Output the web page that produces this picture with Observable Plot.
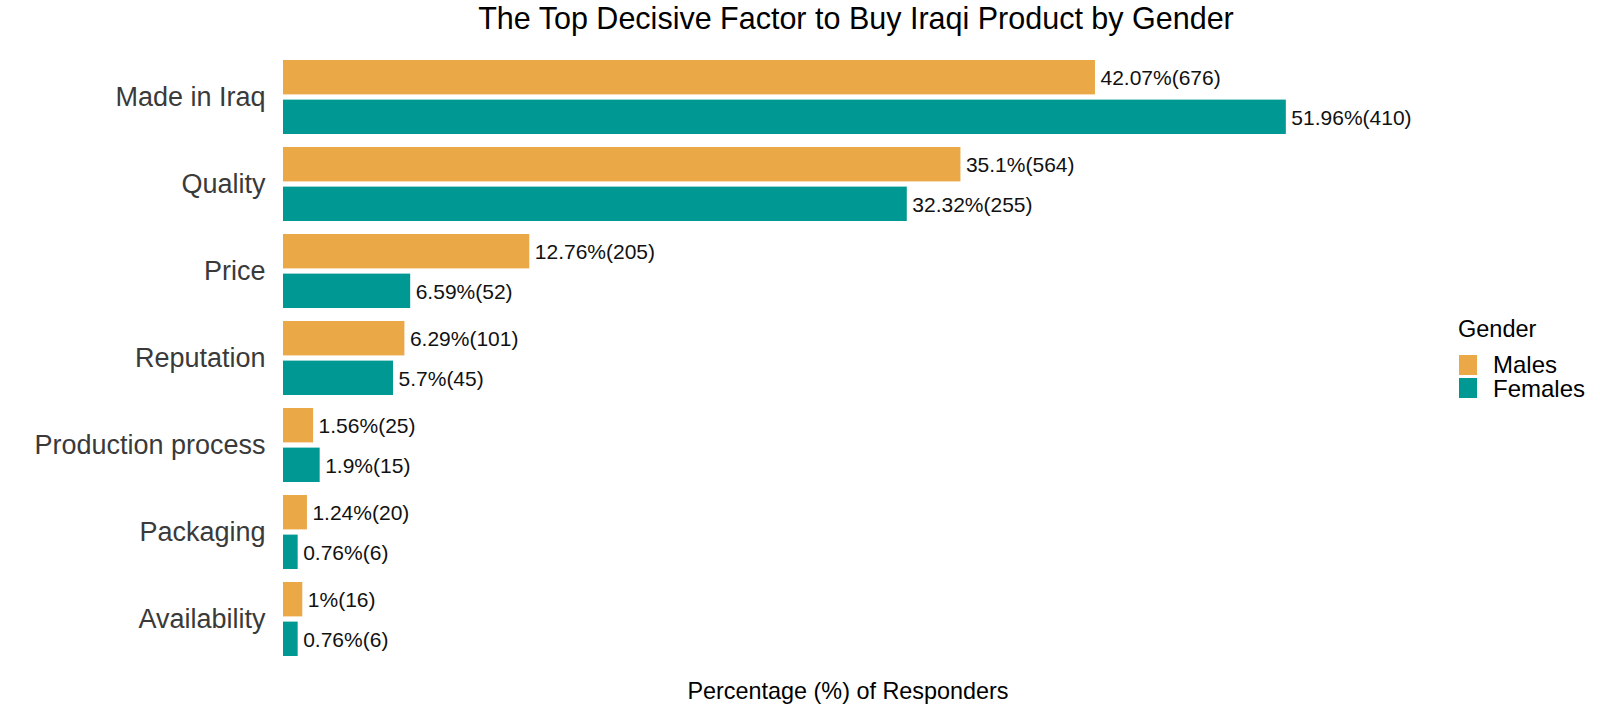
<!DOCTYPE html>
<html>
<head>
<meta charset="utf-8">
<script src="https://cdn.jsdelivr.net/npm/d3@7"></script>
<script src="https://cdn.jsdelivr.net/npm/@observablehq/plot@0.6"></script>
<style>
  html, body { margin: 0; padding: 0; background: #fff; }
  body { font-family: "Liberation Sans", Arial, sans-serif; }
  #wrap { position: relative; width: 1600px; height: 711px; overflow: hidden; }
  #chart { position: absolute; left: 0; top: 0; }
  .abs { position: absolute; line-height: 1; white-space: nowrap; }
  #title { top: 2.7px; left: 0; width: 1712px; text-align: center; font-size: 30.5px; color: #000; }
  #xlabel { top: 680.3px; left: 0; width: 1696px; text-align: center; font-size: 23.4px; color: #000; }
  #legTitle { left: 1458px; top: 318.4px; font-size: 23.5px; color: #000; }
  .sw { position: absolute; left: 1459px; width: 18px; height: 20px; }
  .lab { left: 1493px; font-size: 24px; color: #000; }
</style>
</head>
<body>
<div id="wrap">
  <div id="chart"></div>
  <div id="title" class="abs"></div>
  <div id="xlabel" class="abs"></div>
  <div id="legend"></div>
</div>
<script>
// ---- data ----
const categories = ["Made in Iraq", "Quality", "Price", "Reputation", "Production process", "Packaging", "Availability"];
const genders = ["Males", "Females"];
const genderColors = ["#EBA846", "#009893"];
const malesPct = [42.07, 35.1, 12.76, 6.29, 1.56, 1.24, 1];
const malesN = [676, 564, 205, 101, 25, 20, 16];
const femalesPct = [51.96, 32.32, 6.59, 5.7, 1.9, 0.76, 0.76];
const femalesN = [410, 255, 52, 45, 15, 6, 6];
const titleText = "The Top Decisive Factor to Buy Iraqi Product by Gender";
const xLabelText = "Percentage (%) of Responders";
const legendTitle = "Gender";

// ---- table ----
const rows = [];
categories.forEach((c, i) => {
  rows.push({cat: c, gender: "Males", pct: malesPct[i], n: malesN[i]});
  rows.push({cat: c, gender: "Females", pct: femalesPct[i], n: femalesN[i]});
});
const males = rows.filter(d => d.gender === "Males");
const females = rows.filter(d => d.gender === "Females");
const lab = d => `${d.pct}%(${d.n})`;

const inset = 39.6, off = 19.8;

const chart = Plot.plot({
  width: 1600,
  height: 711,
  marginLeft: 283,
  marginRight: 159,
  marginTop: 57.3,
  marginBottom: 53.5,
  style: {fontFamily: "'Liberation Sans', Arial, sans-serif", fontSize: "27px", color: "#3a3a3a", background: "transparent"},
  x: {domain: [0, 60], axis: null},
  y: {domain: categories, paddingInner: 0.154, paddingOuter: 0, label: null},
  color: {domain: genders, range: genderColors},
  marks: [
    Plot.axisY({tickSize: 0, tickPadding: 18, label: null}),
    Plot.barX(males, {x: "pct", y: "cat", fill: "gender", insetBottom: inset}),
    Plot.barX(females, {x: "pct", y: "cat", fill: "gender", insetTop: inset}),
    Plot.text(males, {x: "pct", y: "cat", text: lab, dx: 5, dy: -off + 0.5, textAnchor: "start", fontSize: 21, fill: "#111"}),
    Plot.text(females, {x: "pct", y: "cat", text: lab, dx: 5, dy: off + 0.5, textAnchor: "start", fontSize: 21, fill: "#111"})
  ]
});
document.getElementById("chart").appendChild(chart);

document.getElementById("title").textContent = titleText;
document.getElementById("xlabel").textContent = xLabelText;

// ---- legend ----
const leg = document.getElementById("legend");
const lt = document.createElement("div");
lt.className = "abs"; lt.id = "legTitle"; lt.textContent = legendTitle;
leg.appendChild(lt);
const swTops = [355, 377.5];
const labTops = [353, 377.3];
genders.forEach((g, i) => {
  const s = document.createElement("div");
  s.className = "sw";
  s.style.top = swTops[i] + "px";
  s.style.background = genderColors[i];
  leg.appendChild(s);
  const t = document.createElement("div");
  t.className = "abs lab";
  t.style.top = labTops[i] + "px";
  t.textContent = g;
  leg.appendChild(t);
});
</script>
</body>
</html>
